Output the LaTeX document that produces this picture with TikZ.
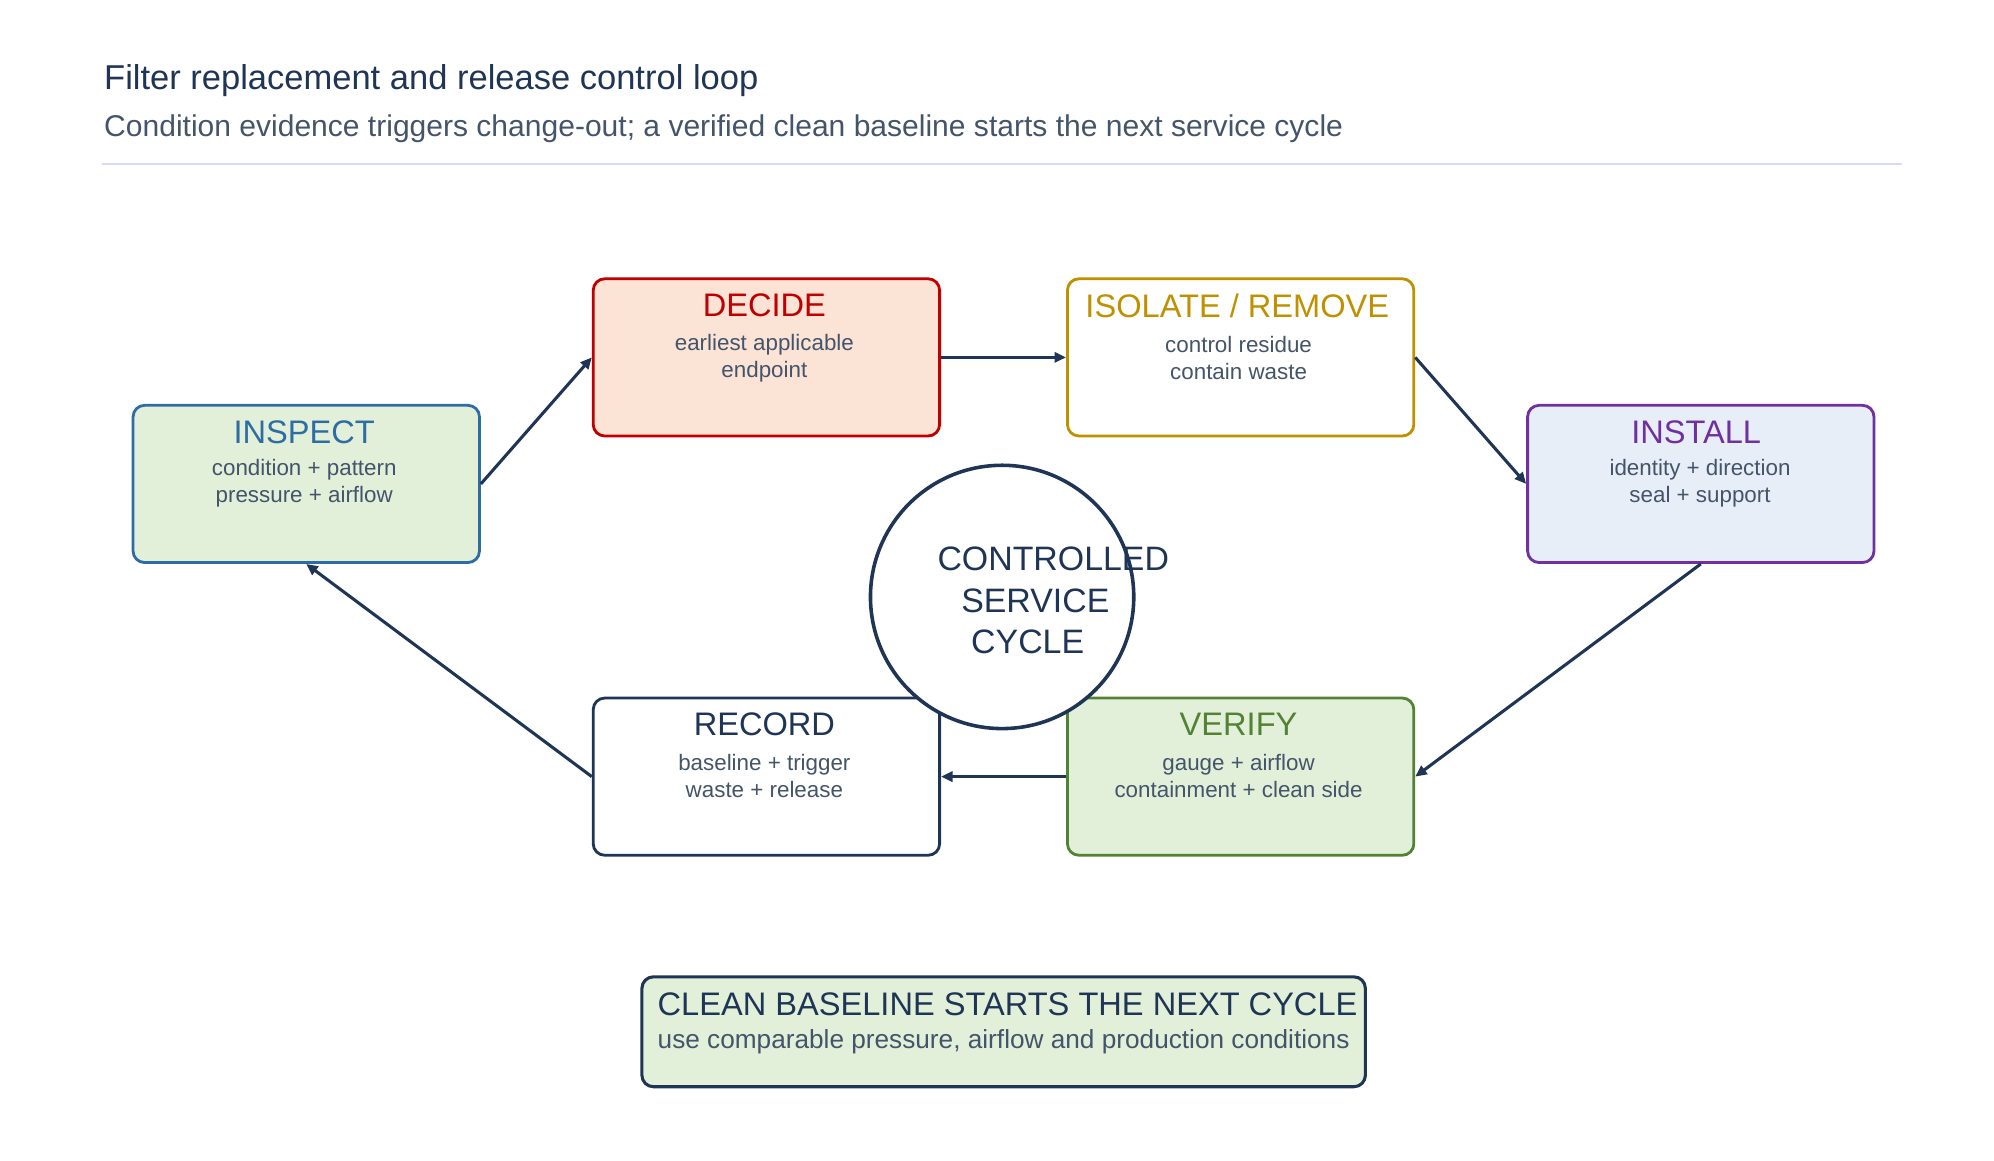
\documentclass[tikz,border=0pt]{standalone}
\usepackage{fontspec}
\setmainfont{Liberation Sans}
\usetikzlibrary{arrows.meta}
\definecolor{navy}{HTML}{1F3556}
\definecolor{sub}{HTML}{44546A}
\definecolor{gfill}{HTML}{E2F0D9}
\definecolor{cins}{HTML}{2E6DA4}
\definecolor{cdec}{HTML}{C00000}
\definecolor{fdec}{HTML}{FBE3D6}
\definecolor{ciso}{HTML}{BF9000}
\definecolor{cinl}{HTML}{7030A0}
\definecolor{finl}{HTML}{E8EEF7}
\definecolor{cver}{HTML}{548235}
\tikzset{
 box/.style={draw, line width=2.2pt, rounded corners=9pt, minimum width=271pt, minimum height=123pt, anchor=north west},
 hd/.style={font=\fontsize{25.5}{30}\selectfont},
 bd/.style={font=\fontsize{17.5}{21}\selectfont, text=sub, align=center},
 ct/.style={text=navy, font=\fontsize{26.5}{30}\selectfont},
 conn/.style={draw=navy, line width=2.4pt, -{Triangle[length=9pt,width=8pt]}}
}
\begin{document}
\begin{tikzpicture}[x=1pt,y=-1pt]
\useasboundingbox (0,0) rectangle (1560,908);
\node[anchor=west, text=navy, font=\fontsize{27}{30}\selectfont] (t) at (78,63) {Filter replacement and release control loop};
\node[anchor=west, text=sub, font=\fontsize{23.5}{26}\selectfont] (s) at (78,101) {Condition evidence triggers change-out; a verified clean baseline starts the next service cycle};
\draw[draw=blue!15, line width=1.5pt] (80,128) -- (1488,128);

\node[box, draw=cins, fill=gfill] (ins) at (103,316) {};
\node[box, draw=cdec, fill=fdec] (dec) at (463,217) {};
\node[box, draw=ciso, fill=white] (iso) at (834,217) {};
\node[box, draw=cinl, fill=finl] (inl) at (1194,316) {};
\node[box, draw=navy, fill=white] (rec) at (463,545) {};
\node[box, draw=cver, fill=gfill] (ver) at (834,545) {};
\node[draw=navy, line width=2.8pt, fill=white, circle, minimum size=206pt, inner sep=0pt] (c) at (784,467) {};
\node[ct] (c1) at (824,437) {CONTROLLED};
\node[ct] (c2) at (810,470) {SERVICE};
\node[ct] (c3) at (804,502) {CYCLE};

\node[hd, text=cins] at (238,338) {INSPECT};
\node[bd] at (238,378) {condition + pattern\\pressure + airflow};
\node[hd, text=cdec] at (598,239) {DECIDE};
\node[bd] at (598,280) {earliest applicable\\endpoint};
\node[hd, text=ciso] at (968,239) {ISOLATE / REMOVE};
\node[bd] at (969,280) {control residue\\contain waste};
\node[hd, text=cinl] at (1327,338) {INSTALL};
\node[bd] at (1330,378) {identity + direction\\seal + support};
\node[hd, text=navy] at (598,567) {RECORD};
\node[bd] at (598,607) {baseline + trigger\\waste + release};
\node[hd, text=cver] at (969,567) {VERIFY};
\node[bd] at (969,607) {gauge + airflow\\containment + clean side};

\node[draw=navy, line width=2.4pt, rounded corners=9pt, fill=gfill, minimum width=566pt, minimum height=86pt, anchor=north west] (bot) at (501,763) {};
\node[anchor=west, text=navy, font=\fontsize{25.5}{28}\selectfont] at (511,786) {CLEAN BASELINE STARTS THE NEXT CYCLE};
\node[anchor=west, text=sub, font=\fontsize{20.5}{23}\selectfont] at (511,815) {use comparable pressure, airflow and production conditions};

\draw[conn] (ins.east) -- (dec.west);
\draw[conn] (dec.east) -- (iso.west);
\draw[conn] (iso.east) -- (inl.west);
\draw[conn] (inl.south) -- (ver.east);
\draw[conn] (ver.west) -- (rec.east);
\draw[conn] (rec.west) -- (ins.south);
\end{tikzpicture}
\end{document}
